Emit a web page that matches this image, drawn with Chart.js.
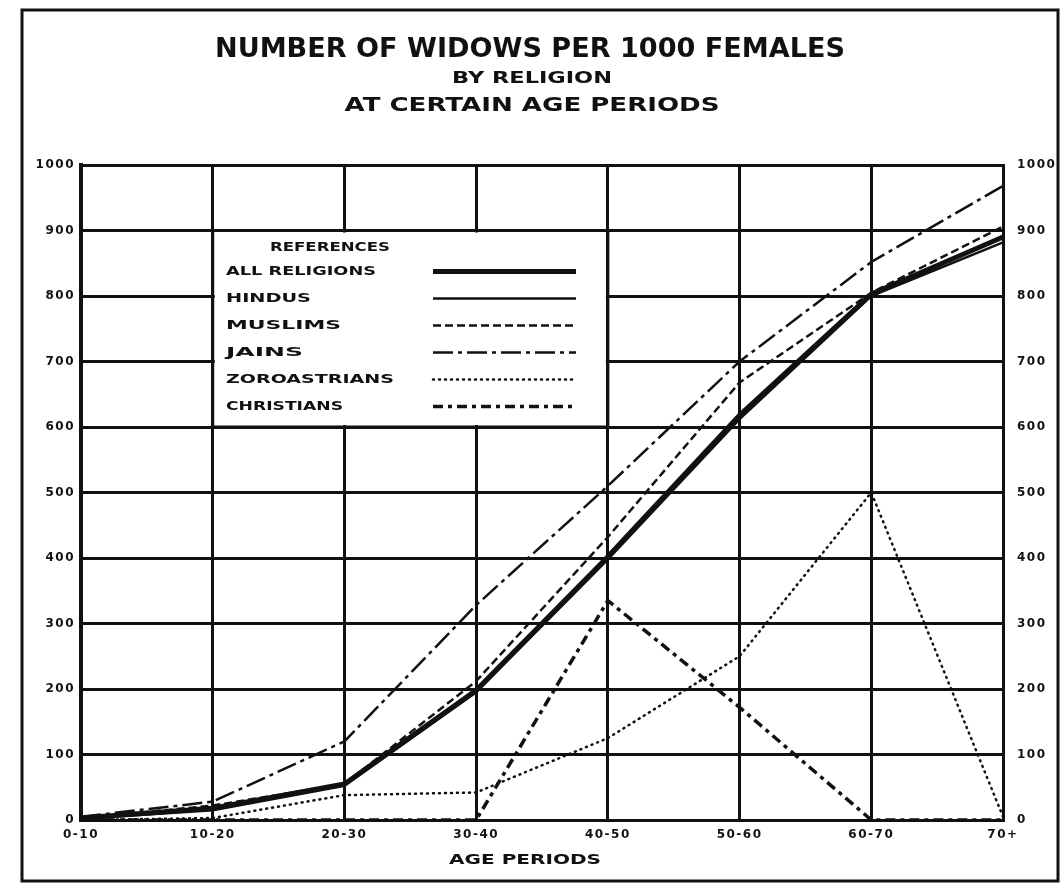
<!DOCTYPE html>
<html>
<head>
<meta charset="utf-8">
<script src="https://cdn.jsdelivr.net/npm/chart.js@4"></script>
<style>
  html, body { margin: 0; padding: 0; background: #fff; }
  #wrap { width: 1062px; height: 884px; }
</style>
</head>
<body>
<div id="wrap"><canvas id="widows" width="1062" height="884"></canvas></div>
<script>
// Widows per 1000 females, by religion and age period
const agePeriods = ["0-10", "10-20", "20-30", "30-40", "40-50", "50-60", "60-70", "70+"];
const allReligions = [3, 18, 55, 198, 402, 618, 803, 890];
const hindus = [2, 15, 52, 195, 398, 612, 800, 882];
const muslims = [3, 22, 55, 212, 432, 668, 805, 906];
const jains = [5, 28, 120, 328, 510, 700, 852, 968];
const zoroastrians = [0, 3, 38, 42, 125, 250, 500, 5];
const christians = [0, 0, 0, 0, 335, 172, 0, 0];

const INK = "#111";
const FONT = "'DejaVu Sans', 'Liberation Sans', sans-serif";

// line styles, shared by the plot and the references box
const styles = {
  all:   { width: 5,   dash: [] },
  hindu: { width: 2.5, dash: [] },
  musl:  { width: 2.5, dash: [8, 4] },
  jain:  { width: 2.5, dash: [20, 5, 4, 5] },
  zoro:  { width: 2.5, dash: [1, 5] },
  chr:   { width: 3.5, dash: [10, 5, 4, 5] }
};

function series(label, data, st) {
  return {
    label, data,
    borderColor: INK,
    borderWidth: st.width,
    borderDash: st.dash,
    borderCapStyle: st === styles.zoro ? "round" : "butt",
    pointRadius: 0,
    tension: 0,
    fill: false
  };
}

// text squeezed/stretched to a given width, like the hand lettering
function fitText(ctx, text, x, y, w, size, align) {
  ctx.save();
  ctx.font = "bold " + size + "px " + FONT;
  ctx.letterSpacing = "0px";
  const m = ctx.measureText(text).width;
  ctx.translate(x, y);
  ctx.scale(w / m, 1);
  ctx.textAlign = align || "center";
  ctx.textBaseline = "middle";
  ctx.fillStyle = INK;
  ctx.fillText(text, 0, 0);
  ctx.restore();
}

const decorations = {
  id: "decorations",
  beforeDraw(chart) {
    chart.ctx.letterSpacing = "1.5px";
  },
  beforeDatasetsDraw(chart) {
    const { ctx, scales: { x, y } } = chart;
    // references box, bounded by grid lines
    const l = x.getPixelForValue(1), r = x.getPixelForValue(4);
    const t = y.getPixelForValue(900), b = y.getPixelForValue(600);
    ctx.save();
    ctx.fillStyle = "#fff";
    ctx.fillRect(l + 2, t + 2, r - l - 4, b - t - 4);
    ctx.strokeStyle = INK;
    ctx.lineWidth = 3;
    ctx.strokeRect(l, t, r - l, b - t);

    fitText(ctx, "REFERENCES", 330, t + 17, 120, 13);
    const rows = [
      ["ALL RELIGIONS", 150, styles.all],
      ["HINDUS", 85, styles.hindu],
      ["MUSLIMS", 115, styles.musl],
      ["JAINS", 77, styles.jain],
      ["ZOROASTRIANS", 168, styles.zoro],
      ["CHRISTIANS", 117, styles.chr]
    ];
    rows.forEach((row, i) => {
      const yy = t + 41 + i * 27;
      fitText(ctx, row[0], 226, yy, row[1], 13, "left");
      ctx.beginPath();
      ctx.lineWidth = row[2].width;
      ctx.setLineDash(row[2].dash);
      ctx.lineCap = row[2] === styles.zoro ? "round" : "butt";
      ctx.moveTo(433, yy);
      ctx.lineTo(576, yy);
      ctx.stroke();
    });
    ctx.restore();
  },
  afterDraw(chart) {
    const { ctx } = chart;
    fitText(ctx, "NUMBER OF WIDOWS PER 1000 FEMALES", 530, 50, 630, 26);
    fitText(ctx, "BY RELIGION", 532, 79, 160, 16);
    fitText(ctx, "AT CERTAIN AGE PERIODS", 532, 106, 375, 19);
    fitText(ctx, "AGE PERIODS", 525, 860, 152, 14);
    ctx.save();
    ctx.strokeStyle = INK;
    ctx.lineWidth = 3;
    ctx.strokeRect(22, 10, 1036, 871);
    ctx.restore();
  }
};

const tickFont = { family: FONT, weight: "bold", size: 12 };
const plainNumber = v => String(v);

new Chart(document.getElementById("widows"), {
  type: "line",
  data: {
    labels: agePeriods,
    datasets: [
      series("All Religions", allReligions, styles.all),
      series("Hindus", hindus, styles.hindu),
      series("Muslims", muslims, styles.musl),
      series("Jains", jains, styles.jain),
      series("Zoroastrians", zoroastrians, styles.zoro),
      series("Christians", christians, styles.chr)
    ]
  },
  options: {
    responsive: false,
    animation: false,
    layout: { padding: { top: 165, left: 0, right: 0, bottom: 0 } },
    plugins: { legend: { display: false }, tooltip: { enabled: false } },
    scales: {
      x: {
        offset: false,
        grid: { color: INK, lineWidth: 3, drawTicks: false },
        border: { color: INK, width: 3 },
        ticks: { color: INK, font: tickFont, padding: 8, maxRotation: 0, autoSkip: false },
        afterFit: s => { s.height = 64; }
      },
      y: {
        position: "left",
        min: 0, max: 1000,
        grid: { color: INK, lineWidth: 3, drawTicks: false },
        border: { color: INK, width: 4 },
        ticks: { stepSize: 100, color: INK, font: tickFont, padding: 6, callback: plainNumber },
        afterFit: s => { s.width = 81; }
      },
      y2: {
        position: "right",
        min: 0, max: 1000,
        grid: { display: false },
        border: { color: INK, width: 3 },
        ticks: { stepSize: 100, color: INK, font: tickFont, padding: 6, callback: plainNumber },
        afterFit: s => { s.width = 59; }
      }
    }
  },
  plugins: [decorations]
});
</script>
</body>
</html>
